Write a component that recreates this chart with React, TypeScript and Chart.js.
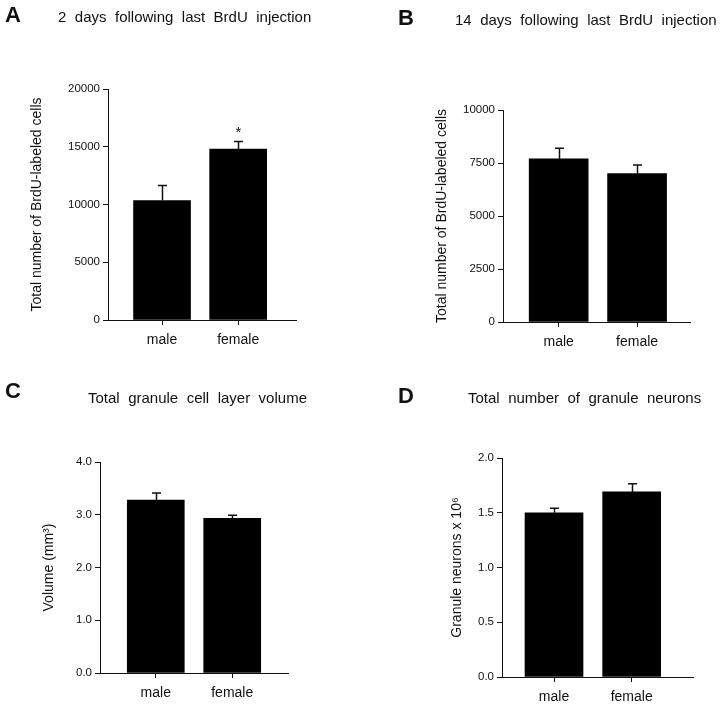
import React, { useEffect, useRef } from "react";
import { Chart, registerables } from "chart.js";

Chart.register(...registerables);

const FONT = "'Liberation Sans', Arial, Helvetica, sans-serif";
Chart.defaults.font.family = FONT;

// ---- data ----
const categories = ["male", "female"];
const catPositions = [1, 2];

const brdu2Values = [10350, 14800];
const brdu2Errors = [1300, 650];
const brdu2Marks = ["", "*"];
const brdu2Ticks = [0, 5000, 10000, 15000, 20000];

const brdu14Values = [7700, 7000];
const brdu14Errors = [500, 400];
const brdu14Marks = ["", ""];
const brdu14Ticks = [0, 2500, 5000, 7500, 10000];

const volumeValues = [3.28, 2.93];
const volumeErrors = [0.13, 0.06];
const volumeMarks = ["", ""];
const volumeTicks = [0, 1, 2, 3, 4];

const neuronValues = [1.5, 1.69];
const neuronErrors = [0.04, 0.075];
const neuronMarks = ["", ""];
const neuronTicks = [0, 0.5, 1, 1.5, 2];

type Panel = {
  letter: string;
  title: string;
  yTitle: string;
  values: number[];
  errors: number[];
  marks: string[];
  ticks: number[];
  decimals: number;
  canvas: { left: number; top: number; w: number; h: number };
  area: { l: number; t: number; r: number; b: number };
  xRange: [number, number];
  barThickness: number;
  yTitleX: number;
  letterPos: [number, number];
  titlePos: [number, number];
};

const panels: Panel[] = [
  {
    letter: "A",
    title: "2 days following last BrdU injection",
    yTitle: "Total number of BrdU-labeled cells",
    values: brdu2Values,
    errors: brdu2Errors,
    marks: brdu2Marks,
    ticks: brdu2Ticks,
    decimals: 0,
    canvas: { left: 0, top: 0, w: 360, h: 355 },
    area: { l: 108, t: 89, r: 296, b: 320 },
    xRange: [0.29, 2.76],
    barThickness: 57,
    yTitleX: 37,
    letterPos: [5, 4],
    titlePos: [58, 9],
  },
  {
    letter: "B",
    title: "14 days following last BrdU injection",
    yTitle: "Total number of BrdU-labeled cells",
    values: brdu14Values,
    errors: brdu14Errors,
    marks: brdu14Marks,
    ticks: brdu14Ticks,
    decimals: 0,
    canvas: { left: 360, top: 0, w: 360, h: 355 },
    area: { l: 143, t: 110, r: 330, b: 322 },
    xRange: [0.29, 2.675],
    barThickness: 59,
    yTitleX: 82,
    letterPos: [398, 7],
    titlePos: [455, 12],
  },
  {
    letter: "C",
    title: "Total granule cell layer volume",
    yTitle: "Volume (mm³)",
    values: volumeValues,
    errors: volumeErrors,
    marks: volumeMarks,
    ticks: volumeTicks,
    decimals: 1,
    canvas: { left: 0, top: 355, w: 360, h: 356 },
    area: { l: 100, t: 107, r: 288, b: 318 },
    xRange: [0.27, 2.73],
    barThickness: 57,
    yTitleX: 49,
    letterPos: [5, 380],
    titlePos: [88, 390],
  },
  {
    letter: "D",
    title: "Total number of granule neurons",
    yTitle: "Granule neurons x 10⁶",
    values: neuronValues,
    errors: neuronErrors,
    marks: neuronMarks,
    ticks: neuronTicks,
    decimals: 1,
    canvas: { left: 360, top: 355, w: 360, h: 356 },
    area: { l: 142, t: 103, r: 333, b: 322 },
    xRange: [0.33, 2.79],
    barThickness: 58,
    yTitleX: 97,
    letterPos: [398, 385],
    titlePos: [468, 390],
  },
];

const errorBarPlugin = {
  id: "errorBars",
  afterDatasetsDraw(chart: any, _args: any, opts: any) {
    const { ctx } = chart;
    const meta = chart.getDatasetMeta(0);
    const ys = chart.scales.y;
    const errs: number[] = opts.errors || [];
    const marks: string[] = opts.marks || [];
    ctx.save();
    ctx.strokeStyle = "#111";
    ctx.lineWidth = 1.5;
    meta.data.forEach((bar: any, i: number) => {
      const v = chart.data.datasets[0].data[i].y;
      const x = Math.round(bar.x) + 0.5;
      const yTop = ys.getPixelForValue(v + errs[i]);
      ctx.beginPath();
      ctx.moveTo(x, bar.y);
      ctx.lineTo(x, yTop);
      ctx.moveTo(x - 4.5, yTop);
      ctx.lineTo(x + 4.5, yTop);
      ctx.stroke();
      if (marks[i]) {
        ctx.fillStyle = "#111";
        ctx.font = `15px ${FONT}`;
        ctx.textAlign = "center";
        ctx.textBaseline = "alphabetic";
        ctx.fillText(marks[i], x, yTop - 5);
      }
    });
    ctx.restore();
  },
};

function PanelChart({ p }: { p: Panel }) {
  const ref = useRef<HTMLCanvasElement | null>(null);
  useEffect(() => {
    if (!ref.current) return;
    const padLeft = p.yTitleX - 8.4;
    const chart = new Chart(ref.current, {
      type: "bar",
      data: {
        datasets: [
          {
            data: categories.map((c, i) => ({ x: catPositions[i], y: p.values[i] })),
            backgroundColor: "#000",
            borderColor: "#000",
            borderWidth: 0,
            barThickness: p.barThickness,
          } as any,
        ],
      },
      options: {
        responsive: false,
        animation: false,
        devicePixelRatio: 1,
        layout: {
          padding: { left: padLeft, top: p.area.t, right: p.canvas.w - p.area.r, bottom: 0 },
        },
        plugins: {
          legend: { display: false },
          tooltip: { enabled: false },
          errorBars: { errors: p.errors, marks: p.marks },
        } as any,
        scales: {
          x: {
            type: "linear",
            min: p.xRange[0],
            max: p.xRange[1],
            offset: false,
            grid: {
              offset: false,
              drawOnChartArea: false,
              drawTicks: true,
              tickLength: 5,
              color: "#111",
              lineWidth: 1,
            },
            border: { display: true, color: "#111", width: 1 },
            afterBuildTicks: (s: any) => {
              s.ticks = catPositions.map((v) => ({ value: v }));
            },
            afterFit: (s: any) => {
              s.height = p.canvas.h - p.area.b;
            },
            ticks: {
              autoSkip: false,
              maxRotation: 0,
              padding: 7,
              color: "#111",
              font: { size: 14, family: FONT },
              callback: (v: any) => {
                const idx = catPositions.indexOf(Number(v));
                return idx >= 0 ? categories[idx] : "";
              },
            },
          } as any,
          y: {
            type: "linear",
            min: 0,
            max: p.ticks[p.ticks.length - 1],
            grid: {
              drawOnChartArea: false,
              drawTicks: true,
              tickLength: 5,
              color: "#111",
              lineWidth: 1,
            },
            border: { display: true, color: "#111", width: 1 },
            afterBuildTicks: (s: any) => {
              s.ticks = p.ticks.map((v) => ({ value: v }));
            },
            afterFit: (s: any) => {
              s.width = p.area.l - padLeft;
            },
            ticks: {
              padding: 3,
              color: "#111",
              font: { size: 11.5, family: FONT },
              callback: (v: any) => Number(v).toFixed(p.decimals),
            },
            title: {
              display: true,
              text: p.yTitle,
              color: "#111",
              padding: 0,
              font: { size: 14, family: FONT },
            },
          } as any,
        },
      },
      plugins: [errorBarPlugin],
    });
    return () => chart.destroy();
  }, [p]);
  return (
    <canvas
      ref={ref}
      width={p.canvas.w}
      height={p.canvas.h}
      style={{
        position: "absolute",
        left: p.canvas.left,
        top: p.canvas.top,
        width: p.canvas.w,
        height: p.canvas.h,
      }}
    />
  );
}

export default function App() {
  return (
    <div
      style={{
        position: "absolute",
        left: 0,
        top: 0,
        width: 720,
        height: 711,
        background: "#fff",
        fontFamily: FONT,
        color: "#111",
      }}
    >
      {panels.map((p) => (
        <React.Fragment key={p.letter}>
          <PanelChart p={p} />
          <div
            style={{
              position: "absolute",
              left: p.letterPos[0],
              top: p.letterPos[1],
              fontSize: 22,
              fontWeight: "bold",
              lineHeight: 1,
              whiteSpace: "nowrap",
            }}
          >
            {p.letter}
          </div>
          <div
            style={{
              position: "absolute",
              left: p.titlePos[0],
              top: p.titlePos[1],
              fontSize: 15,
              lineHeight: 1,
              wordSpacing: 4.3,
              whiteSpace: "nowrap",
            }}
          >
            {p.title}
          </div>
        </React.Fragment>
      ))}
    </div>
  );
}
